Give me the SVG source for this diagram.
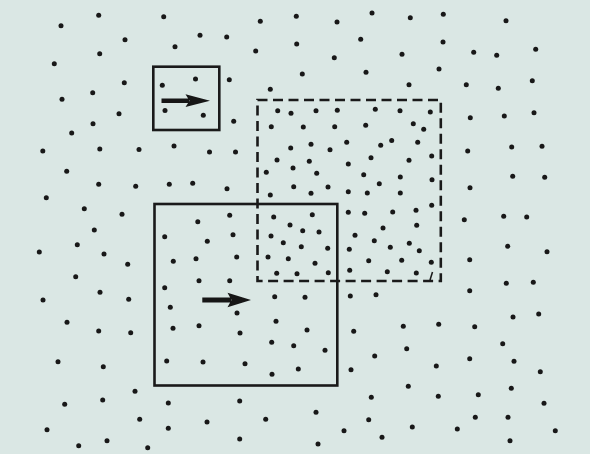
<svg xmlns="http://www.w3.org/2000/svg" width="590" height="454" viewBox="0 0 590 454">
<style>
.bg{fill:#dae7e4}
.d{fill:#181818}
.box{fill:none;stroke:#1a1a1a;stroke-width:2.6}
.dash{fill:none;stroke:#1a1a1a;stroke-width:2.6;stroke-dasharray:10 5.5}
.arr{fill:#161616}
</style>
<defs><circle id="p" r="2.5"/></defs>
<rect class="bg" x="0" y="0" width="590" height="454"/>
<g id="dots" class="d">
<use href="#p" x="98.7" y="15.3"/><use href="#p" x="163.7" y="16.7"/><use href="#p" x="61" y="25.7"/><use href="#p" x="200" y="35.3"/><use href="#p" x="125" y="39.7"/><use href="#p" x="175" y="46.7"/><use href="#p" x="99.7" y="53.7"/><use href="#p" x="54.3" y="63.7"/><use href="#p" x="162.3" y="85.3"/><use href="#p" x="195.5" y="79"/><use href="#p" x="124.3" y="82.7"/><use href="#p" x="92.7" y="92.7"/><use href="#p" x="62" y="99.3"/><use href="#p" x="165" y="110.5"/><use href="#p" x="203.3" y="115.2"/><use href="#p" x="119" y="113.7"/><use href="#p" x="93" y="123.7"/><use href="#p" x="71.7" y="133"/><use href="#p" x="99.8" y="149"/><use href="#p" x="139" y="149.5"/><use href="#p" x="174" y="146"/><use href="#p" x="42.8" y="151"/>
<use href="#p" x="296.3" y="16.3"/><use href="#p" x="372" y="13"/><use href="#p" x="260.3" y="21.3"/><use href="#p" x="337" y="22"/><use href="#p" x="226.7" y="37"/><use href="#p" x="296.7" y="44"/><use href="#p" x="360.7" y="39.3"/><use href="#p" x="255.7" y="51"/><use href="#p" x="334.3" y="57.7"/><use href="#p" x="302.3" y="74"/><use href="#p" x="366" y="72.3"/><use href="#p" x="229.3" y="79.7"/><use href="#p" x="270.3" y="89.3"/><use href="#p" x="233.7" y="121.3"/><use href="#p" x="277.7" y="110.7"/><use href="#p" x="291" y="113.3"/><use href="#p" x="316" y="110.7"/><use href="#p" x="337.3" y="110.3"/><use href="#p" x="375.3" y="109.3"/><use href="#p" x="271.3" y="126.7"/><use href="#p" x="303.3" y="127"/><use href="#p" x="334.7" y="126.7"/><use href="#p" x="365.7" y="125.3"/><use href="#p" x="391.7" y="140.5"/><use href="#p" x="290.7" y="148"/><use href="#p" x="311" y="144.3"/><use href="#p" x="330" y="149.7"/><use href="#p" x="346.7" y="142.3"/><use href="#p" x="380.7" y="145.3"/><use href="#p" x="209.5" y="152"/><use href="#p" x="235.5" y="152"/>
<use href="#p" x="410.3" y="17.7"/><use href="#p" x="443.3" y="14.3"/><use href="#p" x="506" y="20.7"/><use href="#p" x="443" y="42"/><use href="#p" x="402" y="54.3"/><use href="#p" x="473.7" y="52.3"/><use href="#p" x="496.7" y="55.3"/><use href="#p" x="535.7" y="49.3"/><use href="#p" x="439" y="69"/><use href="#p" x="409" y="84.7"/><use href="#p" x="466.3" y="84.7"/><use href="#p" x="498.3" y="88.3"/><use href="#p" x="532.3" y="80.7"/><use href="#p" x="400" y="110.7"/><use href="#p" x="430.3" y="112"/><use href="#p" x="413.3" y="123.7"/><use href="#p" x="423.7" y="129.3"/><use href="#p" x="470.3" y="117.7"/><use href="#p" x="504.3" y="116"/><use href="#p" x="534" y="112.7"/><use href="#p" x="417.7" y="142.3"/><use href="#p" x="467.7" y="151"/><use href="#p" x="511.7" y="147"/><use href="#p" x="542" y="146.3"/>
<use href="#p" x="66.7" y="171.3"/><use href="#p" x="98.7" y="184.3"/><use href="#p" x="135.7" y="186.3"/><use href="#p" x="169.3" y="184.3"/><use href="#p" x="192.7" y="183.3"/><use href="#p" x="46.3" y="197.7"/><use href="#p" x="84.3" y="208.7"/><use href="#p" x="122" y="214.3"/><use href="#p" x="197.8" y="221.7"/><use href="#p" x="94.3" y="230"/><use href="#p" x="164.7" y="236.7"/><use href="#p" x="77.3" y="244.7"/><use href="#p" x="39.3" y="252"/><use href="#p" x="104" y="254"/><use href="#p" x="127.7" y="264.3"/><use href="#p" x="173.3" y="261.3"/><use href="#p" x="196" y="258.8"/><use href="#p" x="75.7" y="276.7"/><use href="#p" x="199" y="280.8"/><use href="#p" x="164.7" y="287.7"/><use href="#p" x="100" y="292.3"/><use href="#p" x="43" y="300"/><use href="#p" x="128.7" y="299.3"/>
<use href="#p" x="277" y="160"/><use href="#p" x="309.3" y="161.3"/><use href="#p" x="371" y="157.7"/><use href="#p" x="348.3" y="164"/><use href="#p" x="266.3" y="172.3"/><use href="#p" x="293" y="168"/><use href="#p" x="316.7" y="173.3"/><use href="#p" x="363.7" y="174.7"/><use href="#p" x="379.3" y="183.7"/><use href="#p" x="227" y="188.7"/><use href="#p" x="293.7" y="186.7"/><use href="#p" x="328" y="187"/><use href="#p" x="270.3" y="195"/><use href="#p" x="311" y="193.3"/><use href="#p" x="348.3" y="191.7"/><use href="#p" x="367.3" y="193"/><use href="#p" x="229.7" y="215.3"/><use href="#p" x="273.7" y="217"/><use href="#p" x="312.3" y="214.7"/><use href="#p" x="348.3" y="212.3"/><use href="#p" x="364.7" y="213.3"/><use href="#p" x="392.7" y="212"/><use href="#p" x="290" y="225"/><use href="#p" x="302.7" y="230.7"/><use href="#p" x="319" y="232"/><use href="#p" x="383" y="228"/><use href="#p" x="207.3" y="241.3"/><use href="#p" x="233" y="234.7"/><use href="#p" x="271" y="236"/><use href="#p" x="283.3" y="242.7"/><use href="#p" x="301.3" y="246.7"/><use href="#p" x="327.7" y="248.3"/><use href="#p" x="355" y="235.3"/><use href="#p" x="374.3" y="240.7"/><use href="#p" x="349.3" y="249.3"/><use href="#p" x="390.3" y="247.3"/><use href="#p" x="236.7" y="257"/><use href="#p" x="268" y="257"/><use href="#p" x="288.3" y="258.7"/><use href="#p" x="315" y="263.3"/><use href="#p" x="368.7" y="260.7"/><use href="#p" x="276.7" y="273.3"/><use href="#p" x="297" y="273.7"/><use href="#p" x="328.3" y="272.7"/><use href="#p" x="349.7" y="270.3"/><use href="#p" x="387.3" y="271.7"/><use href="#p" x="229.7" y="280.7"/><use href="#p" x="274.7" y="296.7"/><use href="#p" x="305" y="297.3"/><use href="#p" x="350.3" y="296"/><use href="#p" x="376" y="294.7"/>
<use href="#p" x="431.7" y="156"/><use href="#p" x="409" y="160.3"/><use href="#p" x="400.3" y="177"/><use href="#p" x="432" y="179.7"/><use href="#p" x="512.7" y="176.3"/><use href="#p" x="544.7" y="177.3"/><use href="#p" x="400.3" y="193"/><use href="#p" x="470" y="187.7"/><use href="#p" x="431.7" y="205.3"/><use href="#p" x="416" y="210.3"/><use href="#p" x="464.3" y="219.7"/><use href="#p" x="503.7" y="216.3"/><use href="#p" x="526.7" y="217"/><use href="#p" x="416.7" y="225.3"/><use href="#p" x="409.3" y="243.3"/><use href="#p" x="419.3" y="250.7"/><use href="#p" x="507.7" y="246.3"/><use href="#p" x="547" y="251.7"/><use href="#p" x="401.7" y="260.3"/><use href="#p" x="431.3" y="262.3"/><use href="#p" x="469.7" y="259.7"/><use href="#p" x="416.3" y="273"/><use href="#p" x="506.3" y="283.3"/><use href="#p" x="533.3" y="282.3"/><use href="#p" x="469.7" y="290.7"/>
<use href="#p" x="170.3" y="307.3"/><use href="#p" x="199" y="325.7"/><use href="#p" x="67" y="322.3"/><use href="#p" x="98.7" y="331"/><use href="#p" x="130.7" y="332.7"/><use href="#p" x="173" y="328.3"/><use href="#p" x="58" y="361.7"/><use href="#p" x="103.3" y="366.7"/><use href="#p" x="166.7" y="361"/><use href="#p" x="135" y="391.3"/><use href="#p" x="64.7" y="404.3"/><use href="#p" x="102.7" y="400"/><use href="#p" x="168.3" y="403"/><use href="#p" x="139.7" y="419.3"/><use href="#p" x="168.3" y="428.3"/><use href="#p" x="47" y="429.7"/><use href="#p" x="78.7" y="445.7"/><use href="#p" x="107" y="440.7"/><use href="#p" x="147.7" y="447.7"/>
<use href="#p" x="237" y="313"/><use href="#p" x="276" y="321.3"/><use href="#p" x="240" y="333"/><use href="#p" x="307" y="330"/><use href="#p" x="271.7" y="342.3"/><use href="#p" x="293.7" y="345.7"/><use href="#p" x="325" y="350.3"/><use href="#p" x="353.7" y="331.3"/><use href="#p" x="374.7" y="356"/><use href="#p" x="203" y="362"/><use href="#p" x="245" y="363.7"/><use href="#p" x="298.3" y="369"/><use href="#p" x="272" y="374.3"/><use href="#p" x="351" y="369.7"/><use href="#p" x="239.7" y="401"/><use href="#p" x="371.3" y="397.3"/><use href="#p" x="316" y="412.3"/><use href="#p" x="207" y="422"/><use href="#p" x="265.7" y="419.3"/><use href="#p" x="368.7" y="419.7"/><use href="#p" x="344" y="430.7"/><use href="#p" x="382" y="437.3"/><use href="#p" x="239.7" y="439"/><use href="#p" x="318" y="444"/>
<use href="#p" x="403.3" y="326.3"/><use href="#p" x="438.7" y="324.3"/><use href="#p" x="474.7" y="326.7"/><use href="#p" x="513" y="317"/><use href="#p" x="538.7" y="314"/><use href="#p" x="406.7" y="348.7"/><use href="#p" x="502.7" y="343.7"/><use href="#p" x="436.3" y="366"/><use href="#p" x="469.7" y="358.7"/><use href="#p" x="514" y="361.3"/><use href="#p" x="540.3" y="371.7"/><use href="#p" x="408.3" y="386.3"/><use href="#p" x="438.3" y="396.3"/><use href="#p" x="478.3" y="394.7"/><use href="#p" x="511.3" y="388.3"/><use href="#p" x="544" y="403.3"/><use href="#p" x="475.3" y="417.3"/><use href="#p" x="508" y="417.3"/><use href="#p" x="412.3" y="427"/><use href="#p" x="457.3" y="429"/><use href="#p" x="555.3" y="430.7"/><use href="#p" x="510" y="440.7"/>
</g>
<g id="small-box"><rect class="box" x="153.3" y="66.7" width="66" height="63.3"/></g>
<g id="dashed-box"><rect class="dash" x="257.5" y="100" width="183.3" height="181"/><line x1="430" y1="280" x2="432.5" y2="272" stroke="#1a1a1a" stroke-width="1.6"/></g>
<g id="large-box"><rect class="box" x="154.5" y="204" width="182.8" height="181.5"/></g>
<g id="connectors" class="arr">
<path d="M161.5,98.5 H189 V102.9 H161.5 Z M185.5,94.3 L210,100.7 L185.5,107.1 L189.5,100.7 Z"/>
<path d="M202.3,297.6 H231 V302.4 H202.3 Z M227.5,292.8 L251,300 L227.5,307.2 L231.5,300 Z"/>
</g>
</svg>
